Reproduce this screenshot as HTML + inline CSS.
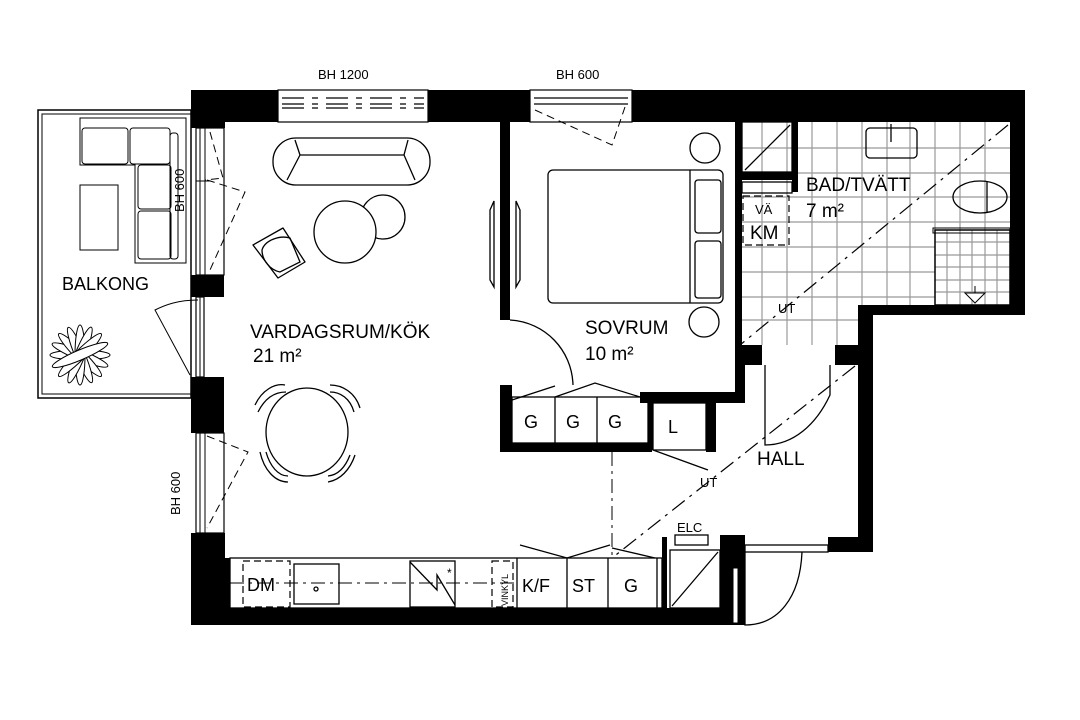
<!DOCTYPE html>
<html><head><meta charset="utf-8"><style>
html,body{margin:0;padding:0;background:#fff}
svg{display:block}
text{font-family:"Liberation Sans",sans-serif;fill:#000}
</style></head><body>
<svg width="1080" height="720" viewBox="0 0 1080 720" xmlns="http://www.w3.org/2000/svg">
<rect width="1080" height="720" fill="#fff"/>

<!-- bath tiles -->
<g stroke="#999" stroke-width="1.2">
<path d="M762 122V345M787 122V345M812 122V345M837 122V345M862 122V305M887 122V305M910 122V305M935 122V230M960 122V230M985 122V230"/>
<path d="M742 148H1010M742 173H1010M742 197H1010M742 222H1010M742 247H935M742 272H935M742 297H935M742 320H858"/>
<path d="M947 230V305M960 230V305M972 230V305M985 230V305M997 230V305M935 242H1010M935 255H1010M935 267H1010M935 280H1010M935 292H1010"/>
</g>
<rect x="935" y="230" width="75" height="75" fill="none" stroke="#000" stroke-width="1.5"/>
<rect x="933" y="228" width="77" height="5" fill="none" stroke="#000" stroke-width="1"/>
<path d="M965 293H985L975 303Z" fill="#fff" stroke="#000"/>
<path d="M975 286V293" stroke="#000"/>

<!-- walls -->
<g fill="#000">
<rect x="191" y="90" width="87" height="32"/>
<rect x="428" y="90" width="102" height="32"/>
<rect x="632" y="90" width="393" height="32"/>
<rect x="191" y="90" width="34" height="38"/>
<rect x="191" y="275" width="33" height="22"/>
<rect x="191" y="377" width="33" height="56"/>
<rect x="191" y="533" width="34" height="92"/>
<rect x="191" y="608" width="554" height="17"/>
<rect x="1010" y="90" width="15" height="225"/>
<rect x="858" y="305" width="167" height="10"/>
<rect x="858" y="305" width="15" height="247"/>
<rect x="828" y="537" width="45" height="15"/>
<rect x="500" y="122" width="10" height="198"/>
<rect x="735" y="122" width="7" height="243"/>
<rect x="735" y="345" width="27" height="20"/>
<rect x="835" y="345" width="23" height="20"/>
<rect x="792" y="122" width="6" height="70"/>
<rect x="742" y="172" width="56" height="8"/>
<rect x="735" y="365" width="10" height="38"/>
<rect x="640" y="392" width="105" height="11"/>
<rect x="500" y="385" width="12" height="67"/>
<rect x="500" y="443" width="152" height="9"/>
<rect x="706" y="403" width="10" height="49"/>
<rect x="648" y="403" width="5" height="47"/>
<rect x="662" y="537" width="5" height="71"/>
<rect x="720" y="535" width="25" height="90"/>
<rect x="733" y="537" width="12" height="8"/>
<rect x="225" y="558" width="5" height="50"/>
</g>
<rect x="733" y="568" width="5" height="55" fill="#fff" stroke="#000"/>

<!-- windows top -->
<g fill="#fff" stroke="#000" stroke-width="1.2">
<rect x="278" y="90" width="150" height="32"/>
<rect x="530" y="90" width="102" height="32"/>
</g>
<path d="M282 98H424M282 104H424M282 108H424" stroke="#000" stroke-width="1.2" stroke-dasharray="22 8 6 8"/>
<path d="M534 98H628M534 104H628" stroke="#000" stroke-width="1.2"/>
<path d="M278 122H428" stroke="#000" stroke-dasharray="14 6 3 6"/>
<path d="M535 110L612 145L625 107" fill="none" stroke="#000" stroke-dasharray="8 5"/>

<!-- left windows -->
<g fill="#fff" stroke="#000" stroke-width="1.2">
<rect x="196" y="128" width="28" height="147"/>
<rect x="196" y="297" width="8" height="80"/>
<rect x="196" y="433" width="28" height="100"/>
</g>
<path d="M200 128V275M205 128V275M200 433V533M205 433V533M196 181H211M200 297V377" stroke="#000"/>
<path d="M210 132L223 178L205 180M207 180L245 192L210 270M207 436L248 452L207 528" fill="none" stroke="#000" stroke-dasharray="8 5"/>

<!-- balcony -->
<rect x="38" y="110" width="153" height="288" fill="none" stroke="#000" stroke-width="1.5"/>
<rect x="42" y="114" width="149" height="280" fill="none" stroke="#000" stroke-width="1"/>
<g fill="none" stroke="#000" stroke-width="1">
<path d="M80 118H186V263H135V165H80Z"/>
<rect x="82" y="128" width="46" height="36" rx="3"/>
<rect x="130" y="128" width="40" height="36" rx="3"/>
<rect x="138" y="165" width="33" height="44" rx="3"/>
<rect x="138" y="211" width="33" height="48" rx="3"/>
<rect x="170" y="133" width="8" height="126" rx="3"/>
<rect x="80" y="185" width="38" height="65"/>
<path d="M198 300C178 300 165 305 155 310L190 375"/>
</g>
<g stroke="#000" fill="#fff" stroke-width="1" transform="translate(80 355)">
<ellipse rx="30" ry="5" transform="rotate(0)"/><ellipse rx="30" ry="5" transform="rotate(22)"/><ellipse rx="30" ry="5" transform="rotate(45)"/><ellipse rx="30" ry="5" transform="rotate(67)"/><ellipse rx="30" ry="5" transform="rotate(90)"/><ellipse rx="30" ry="5" transform="rotate(112)"/><ellipse rx="30" ry="5" transform="rotate(135)"/><ellipse rx="30" ry="5" transform="rotate(157)"/>
</g>

<!-- living furniture -->
<g fill="none" stroke="#000" stroke-width="1.3">
<rect x="273" y="138" width="157" height="47" rx="23"/>
<path d="M295 140L300 155L287 180M408 140L404 155L415 180M300 155H404"/>
<circle cx="383" cy="217" r="22" fill="#fff"/>
<circle cx="345" cy="232" r="31" fill="#fff"/>
<path d="M253 245L283 228L305 262L278 278Z" stroke-linejoin="round"/>
<path d="M262 250C265 240 280 235 290 238L300 262L280 272C270 270 262 260 262 250Z"/>
<ellipse cx="307" cy="432" rx="41" ry="44"/>
<path d="M255 405C262 390 275 383 285 385M258 412C265 398 275 392 286 392M330 385C342 385 355 392 360 408M330 392C340 392 350 398 354 412M260 452C264 470 275 482 288 482M266 452C270 466 278 476 288 476M355 455C350 470 340 480 328 482M350 455C345 468 338 475 328 476"/>
<!-- bedroom -->
<rect x="548" y="170" width="175" height="133" rx="5"/>
<path d="M690 170V303"/>
<rect x="695" y="180" width="26" height="53" rx="3"/>
<rect x="695" y="241" width="26" height="57" rx="3"/>
<circle cx="705" cy="148" r="15"/>
<circle cx="704" cy="322" r="15"/>
<path d="M490 210L494 201V287L490 280ZM520 210L516 201V287L520 280Z"/>
<path d="M510 320C545 322 572 350 573 385"/>
<!-- wardrobes -->
<rect x="512" y="397" width="136" height="46"/>
<path d="M555 397V443M597 397V443"/>
<path d="M512 400L555 386M555 397L595 383L640 397"/>
<rect x="653" y="403" width="53" height="47"/>
<path d="M653 450L708 470"/>
<!-- bath fixtures -->
<rect x="742" y="122" width="50" height="50"/>
<path d="M745 170L790 125"/>
<rect x="742" y="182" width="50" height="11"/>
<rect x="866" y="128" width="51" height="30" rx="4"/>
<path d="M891 124V142"/>
<ellipse cx="980" cy="197" rx="27" ry="16"/>
<path d="M987 182V212"/>
<!-- hall doors -->
<path d="M765 365V445C793 445 816 425 830 395V365"/>
<path d="M745 552V625C778 625 800 598 802 552"/>
<rect x="745" y="545" width="83" height="7"/>
<rect x="675" y="535" width="33" height="10"/>
<rect x="670" y="550" width="50" height="58"/>
<path d="M672 606L718 552"/>
<!-- kitchen -->
<rect x="230" y="558" width="432" height="50"/>
<rect x="294" y="564" width="45" height="40"/>
<circle cx="316" cy="589" r="2"/>
<rect x="410" y="561" width="45" height="46"/>
<path d="M410 562L437 590V575L455 605"/>
<path d="M517 558V608M567 558V608M608 558V608M657 558V608"/>
<path d="M520 545L567 558L610 545M612 548L655 558"/>
</g>
<g fill="none" stroke="#000" stroke-width="1.2" stroke-dasharray="7 4">
<rect x="243" y="561" width="47" height="46"/>
<rect x="492" y="561" width="21" height="46"/>
<rect x="743" y="196" width="46" height="49"/>
</g>
<path d="M230 583H517" stroke="#000" stroke-dasharray="14 5 3 5"/>
<path d="M1008 125L740 345M855 366L612 558" stroke="#000" stroke-width="1.2" stroke-dasharray="16 6 3 6"/>
<path d="M612 452V558" stroke="#000" stroke-dasharray="14 5 3 5"/>

<!-- text -->
<text x="318" y="79" font-size="13">BH 1200</text>
<text x="556" y="79" font-size="13">BH 600</text>
<text transform="translate(184 212) rotate(-90)" font-size="13">BH 600</text>
<text transform="translate(180 515) rotate(-90)" font-size="13">BH 600</text>
<text x="62" y="290" font-size="18">BALKONG</text>
<text x="250" y="338" font-size="19">VARDAGSRUM/KÖK</text>
<text x="253" y="362" font-size="19">21 m²</text>
<text x="585" y="334" font-size="19">SOVRUM</text>
<text x="585" y="360" font-size="19">10 m²</text>
<text x="806" y="191" font-size="19">BAD/TVÄTT</text>
<text x="806" y="217" font-size="19">7 m²</text>
<text x="755" y="214" font-size="13">VÄ</text>
<text x="750" y="239" font-size="19">KM</text>
<text x="778" y="313" font-size="13">UT</text>
<text x="757" y="465" font-size="19">HALL</text>
<text x="700" y="487" font-size="13">UT</text>
<text x="677" y="532" font-size="13">ELC</text>
<text x="524" y="428" font-size="18">G</text>
<text x="566" y="428" font-size="18">G</text>
<text x="608" y="428" font-size="18">G</text>
<text x="668" y="433" font-size="18">L</text>
<text x="247" y="591" font-size="18">DM</text>
<text x="447" y="577" font-size="12">*</text>
<text transform="translate(508 606) rotate(-90)" font-size="9">VINKYL</text>
<text x="522" y="592" font-size="18">K/F</text>
<text x="572" y="592" font-size="18">ST</text>
<text x="624" y="592" font-size="18">G</text>
</svg>
</body></html>
